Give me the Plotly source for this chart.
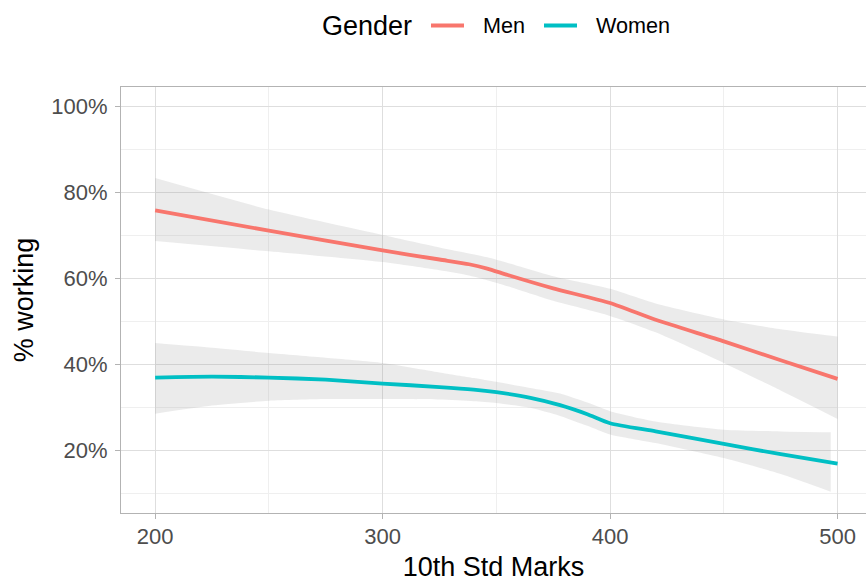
import plotly.graph_objects as go

# Smoothed share of students working, by 10th standard marks and gender
men_x = [200, 250, 300, 325, 338, 346, 355, 375, 400, 420, 450, 475, 500]
men_fit = [75.8, 71.1, 66.5, 64.4, 63.3, 62.3, 60.8, 57.7, 54.3, 50.4, 45.4, 41.0, 36.7]
men_lo = [68.7, 66.3, 63.8, 61.9, 60.7, 59.6, 58.2, 54.8, 51.3, 47.5, 40.4, 34.0, 27.4]
men_hi = [83.3, 76.0, 70.1, 67.2, 65.8, 64.9, 63.6, 60.5, 57.6, 54.2, 50.5, 48.2, 46.5]

women_x = [200, 225, 250, 275, 300, 325, 340, 350, 365, 378, 390, 400, 420, 450, 475, 500]
women_fit = [37.0, 37.2, 37.0, 36.5, 35.6, 34.8, 34.2, 33.6, 32.3, 30.6, 28.5, 26.4, 24.5, 21.6, 19.2, 17.0]
women_band_x = [200, 225, 250, 275, 300, 325, 340, 350, 365, 378, 390, 400, 420, 450, 475, 497]
women_lo = [28.6, 30.5, 31.6, 32.0, 32.0, 31.9, 31.5, 31.1, 30.0, 28.1, 25.8, 23.8, 21.8, 18.3, 14.6, 10.5]
women_hi = [45.0, 43.9, 42.7, 41.6, 40.4, 38.2, 36.9, 36.0, 34.6, 33.3, 31.2, 29.2, 26.8, 24.9, 24.5, 24.3]

groups = ["Men", "Women"]
x_ticks = [200, 300, 400, 500]
y_ticks = [0.2, 0.4, 0.6, 0.8, 1.0]
y_tick_text = ["20%", "40%", "60%", "80%", "100%"]

MEN_COLOR = "#F8766D"
WOMEN_COLOR = "#00BFC4"
BAND_COLOR = "rgba(153,153,153,0.2)"
FONT = "Liberation Sans, Arial, sans-serif"
LINE_W = 3.8


def pct(values):
    return [v / 100 for v in values]


fig = go.Figure()


def add_group(name, color, x, fit, band_x, lo, hi):
    fig.add_trace(go.Scatter(
        x=band_x, y=pct(lo), mode="lines", line=dict(width=0, shape="spline", smoothing=0.6),
        showlegend=False, hoverinfo="skip"))
    fig.add_trace(go.Scatter(
        x=band_x, y=pct(hi), mode="lines", line=dict(width=0, shape="spline", smoothing=0.6),
        fill="tonexty", fillcolor=BAND_COLOR, showlegend=False, hoverinfo="skip"))
    fig.add_trace(go.Scatter(
        x=x, y=pct(fit), mode="lines", name=name, showlegend=False,
        line=dict(color=color, width=LINE_W, shape="spline", smoothing=0.6)))


add_group(groups[0], MEN_COLOR, men_x, men_fit, men_x, men_lo, men_hi)
add_group(groups[1], WOMEN_COLOR, women_x, women_fit, women_band_x, women_lo, women_hi)

axis_common = dict(
    showline=True, linecolor="#b3b3b3", linewidth=1,
    ticks="outside", ticklen=5, tickcolor="#b3b3b3", tickwidth=1,
    tickfont=dict(family=FONT, size=22, color="#4d4d4d"),
    gridcolor="#dedede", gridwidth=1, zeroline=False,
    title_font=dict(family=FONT, size=27, color="black"),
)

fig.update_xaxes(
    range=[185, 512.5], tickvals=x_ticks, ticktext=[str(v) for v in x_ticks],
    mirror=True, title_text="10th Std Marks", title_standoff=28, ticklabelstandoff=-1,
    minor=dict(dtick=50, tick0=0, showgrid=True, gridcolor="#efefef", gridwidth=1, ticks=""),
    **axis_common)
fig.update_yaxes(
    range=[0.0556, 1.0444], tickvals=y_ticks, ticktext=y_tick_text,
    title_text="% working", title_standoff=9, ticklabelstandoff=3,
    minor=dict(dtick=0.1, tick0=0, showgrid=True, gridcolor="#efefef", gridwidth=1, ticks=""),
    **axis_common)

# Legend row above the panel: title, then a coloured key and label per group
PLOT_L, PLOT_T, PLOT_W, PLOT_H = 121, 87, 745, 426


def px_x(px):
    return (px - PLOT_L) / PLOT_W


def px_y(py):
    return 1 + (PLOT_T - py) / PLOT_H


legend_y = px_y(25.5)
fig.add_annotation(x=px_x(320), y=legend_y, xref="paper", yref="paper", text="Gender",
                   showarrow=False, xanchor="left", yanchor="middle",
                   font=dict(family=FONT, size=27, color="black"))
for name, color, key_x0, text_x in [(groups[0], MEN_COLOR, 431, 481),
                                     (groups[1], WOMEN_COLOR, 544, 594)]:
    fig.add_shape(type="line", xref="paper", yref="paper",
                  x0=px_x(key_x0), x1=px_x(key_x0 + 33), y0=legend_y, y1=legend_y,
                  line=dict(color=color, width=LINE_W))
    fig.add_annotation(x=px_x(text_x), y=legend_y, xref="paper", yref="paper", text=name,
                       showarrow=False, xanchor="left", yanchor="middle",
                       font=dict(family=FONT, size=21.6, color="black"))

fig.update_layout(
    width=866, height=582,
    margin=dict(l=PLOT_L, r=0, t=PLOT_T, b=582 - PLOT_T - PLOT_H, autoexpand=False),
    paper_bgcolor="white", plot_bgcolor="white",
    font=dict(family=FONT),
    showlegend=False,
)

fig.write_html("out.html")
